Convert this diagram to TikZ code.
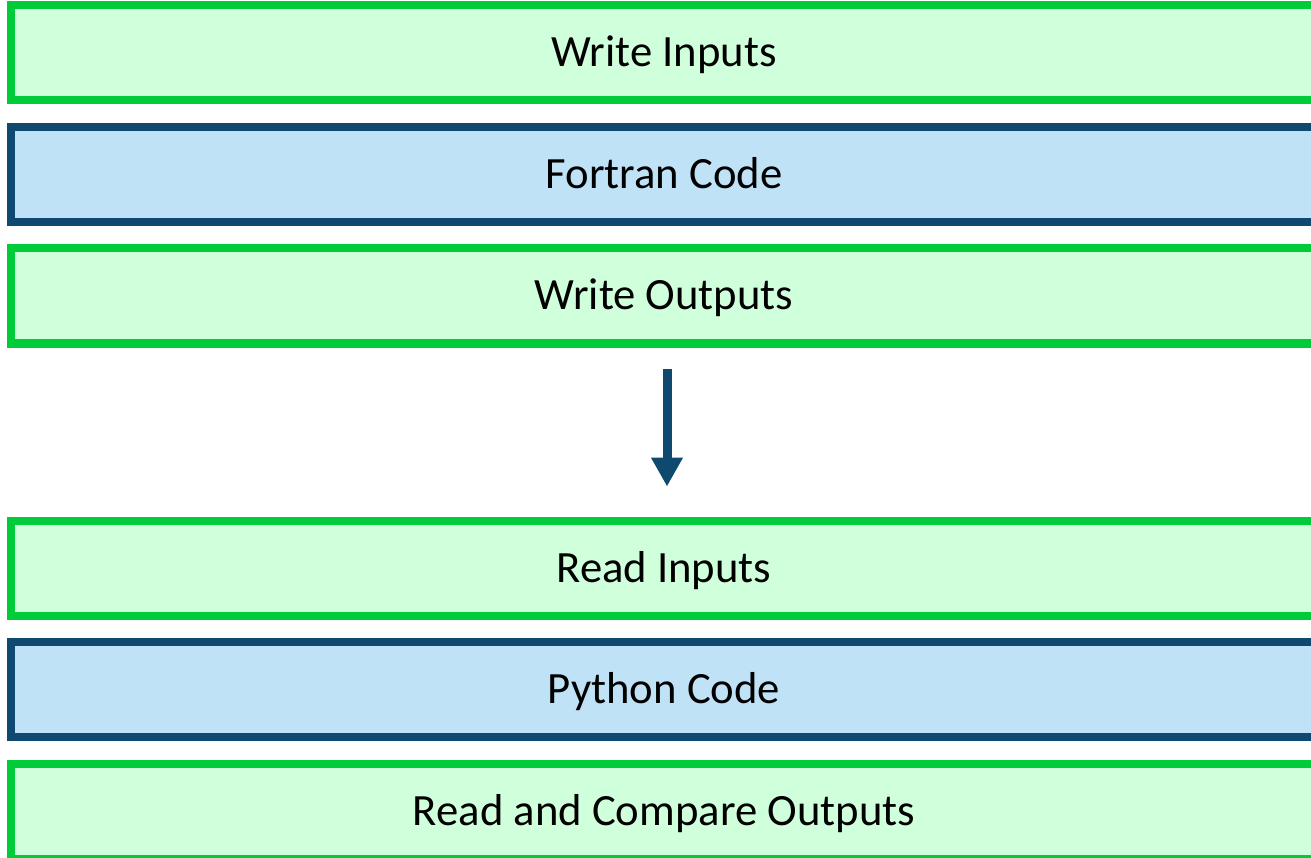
\documentclass[tikz,border=0pt]{standalone}
\usepackage{fontspec}
\setmainfont{Carlito}
\usetikzlibrary{arrows.meta}

\definecolor{stepgreen}{RGB}{0,204,58}
\definecolor{stepgreenfill}{RGB}{208,255,220}
\definecolor{codeblue}{RGB}{15,73,111}
\definecolor{codebluefill}{RGB}{191,226,247}

\tikzset{
  band/.style={rectangle, line width=8pt, minimum width=1306pt, minimum height=95pt,
    inner sep=0pt, text height=30pt, text depth=2pt,
    font=\fontsize{44.7}{54}\selectfont, text=black},
  iobox/.style={band, draw=stepgreen, fill=stepgreenfill},
  codebox/.style={band, draw=codeblue, fill=codebluefill},
  flowarrow/.style={draw=codeblue, line width=9pt,
    -{Triangle[width=30pt,length=29pt]}, fill=codeblue}
}

\begin{document}
\begin{tikzpicture}[x=1pt,y=-1pt]
  \useasboundingbox (0,0) rectangle (1311,858);
  \clip (0,0) rectangle (1311,858);

  % Fortran side
  \node[iobox]   (winputs)  at (664,52.5) {Write Inputs};
  \node[codebox] (fortran)  at (664,174.5) {Fortran Code};
  \node[iobox]   (woutputs) at (664,296) {Write Outputs};

  % Python side
  \node[iobox]   (rinputs)  at (664,568) {Read Inputs};
  \node[codebox] (python)   at (664,689.5) {Python Code};
  \node[iobox]   (compare)  at (664,811) {Read and Compare Outputs};

  % hand-over from one side to the other
  \draw[flowarrow, shorten <=21pt, shorten >=30pt]
    ([xshift=3pt]woutputs.south) -- ([xshift=3pt]rinputs.north);
\end{tikzpicture}
\end{document}
